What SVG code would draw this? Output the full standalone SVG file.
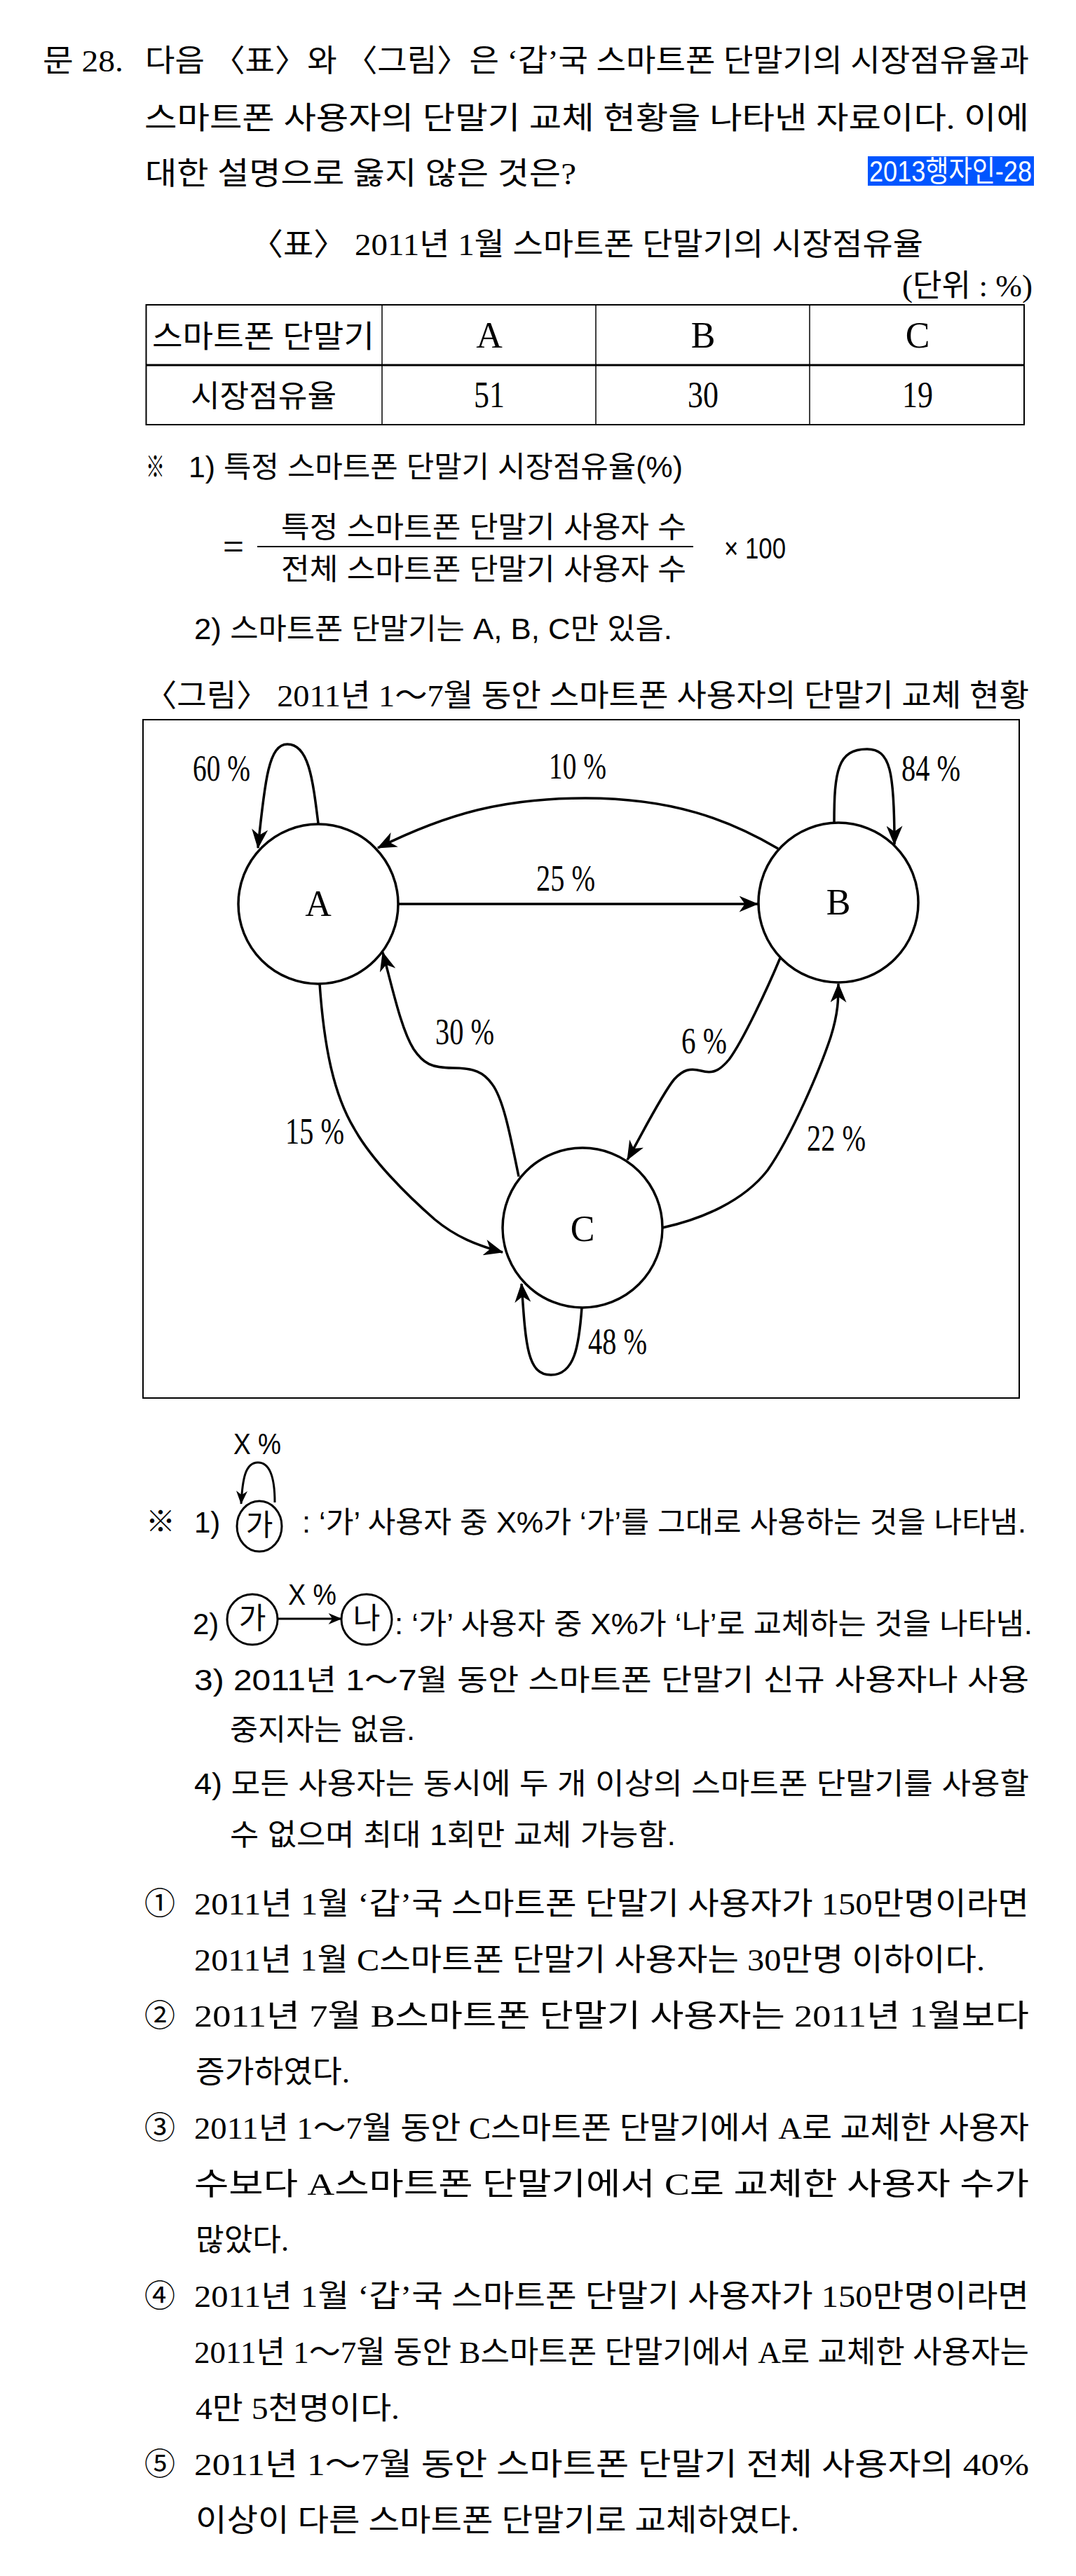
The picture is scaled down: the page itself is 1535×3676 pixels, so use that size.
<svg xmlns="http://www.w3.org/2000/svg" width="1535" height="3676" viewBox="0 0 1535 3676">
<style>
.t{font-family:"Liberation Serif","Noto Sans CJK KR",serif;font-size:44px;fill:#000}
.s{font-family:"Liberation Sans","Noto Sans CJK KR",sans-serif;font-size:42px;fill:#000}
.big{font-family:"Liberation Serif","Noto Sans CJK KR",serif;font-size:52px;fill:#000}
.lbl{font-family:"Liberation Serif",serif;font-size:52px;fill:#000}
.node{fill:#fff;stroke:#000;stroke-width:3.5}
.edge{fill:none;stroke:#000;stroke-width:3.5;marker-end:url(#arr)}
.sedge{fill:none;stroke:#000;stroke-width:3;marker-end:url(#arrs)}
.snode{fill:#fff;stroke:#000;stroke-width:3}
.ln{stroke:#000;fill:none}
</style>
<defs>
<marker id="arr" viewBox="0 0 24 20" refX="23" refY="10" markerWidth="28" markerHeight="23" orient="auto" markerUnits="userSpaceOnUse"><path d="M0,0 L24,10 L0,20 L7,10 z" fill="#000"/></marker>
<marker id="arrs" viewBox="0 0 24 20" refX="23" refY="10" markerWidth="20" markerHeight="16" orient="auto" markerUnits="userSpaceOnUse"><path d="M0,0 L24,10 L0,20 L7,10 z" fill="#000"/></marker>
</defs>
<rect width="1535" height="3676" fill="#fff"/>

<g id="question">
<text class="t" x="61" y="102" textLength="115" lengthAdjust="spacingAndGlyphs">문 28.</text>
<text class="t" x="207" y="102" textLength="1261" lengthAdjust="spacingAndGlyphs">다음 〈표〉와 〈그림〉은 ‘갑’국 스마트폰 단말기의 시장점유율과</text>
<text class="t" x="206" y="184" textLength="1262" lengthAdjust="spacingAndGlyphs">스마트폰 사용자의 단말기 교체 현황을 나타낸 자료이다. 이에</text>
<text class="t" x="207" y="263" textLength="615" lengthAdjust="spacingAndGlyphs">대한 설명으로 옳지 않은 것은?</text>
<rect x="1238" y="223" width="237" height="42" fill="#0055ff"/>
<text class="s" x="1240" y="259" style="fill:#fff" textLength="232" lengthAdjust="spacingAndGlyphs">2013행자인-28</text>
</g>

<g id="table">
<text class="t" x="357" y="364" textLength="960" lengthAdjust="spacingAndGlyphs">〈표〉 2011년 1월 스마트폰 단말기의 시장점유율</text>
<text class="t" x="1287" y="423" textLength="186" lengthAdjust="spacingAndGlyphs">(단위 : %)</text>
<rect class="ln" x="208.5" y="435" width="1252.5" height="171" stroke-width="2"/>
<line class="ln" x1="208.5" y1="521" x2="1461" y2="521" stroke-width="3"/>
<line class="ln" x1="545" y1="435" x2="545" y2="606" stroke-width="1.5"/>
<line class="ln" x1="850" y1="435" x2="850" y2="606" stroke-width="1.5"/>
<line class="ln" x1="1155" y1="435" x2="1155" y2="606" stroke-width="1.5"/>
<text class="t" x="217" y="496" textLength="317" lengthAdjust="spacingAndGlyphs">스마트폰 단말기</text>
<text class="big" x="698" y="496" text-anchor="middle">A</text>
<text class="big" x="1003" y="496" text-anchor="middle">B</text>
<text class="big" x="1309" y="496" text-anchor="middle">C</text>
<text class="t" x="272" y="581" textLength="208" lengthAdjust="spacingAndGlyphs">시장점유율</text>
<text class="big" x="676" y="581" textLength="44" lengthAdjust="spacingAndGlyphs">51</text>
<text class="big" x="981" y="581" textLength="44" lengthAdjust="spacingAndGlyphs">30</text>
<text class="big" x="1287" y="581" textLength="44" lengthAdjust="spacingAndGlyphs">19</text>
</g>

<g id="table-notes">
<text class="s" x="208" y="681" textLength="27" lengthAdjust="spacingAndGlyphs">※</text>
<text class="s" x="269" y="681" textLength="705" lengthAdjust="spacingAndGlyphs">1) 특정 스마트폰 단말기 시장점유율(%)</text>
<text class="s" x="318" y="794" textLength="30" lengthAdjust="spacingAndGlyphs">=</text>
<text class="s" x="401" y="767" textLength="578" lengthAdjust="spacingAndGlyphs">특정 스마트폰 단말기 사용자 수</text>
<line class="ln" x1="367" y1="780" x2="989" y2="780" stroke-width="2"/>
<text class="s" x="401" y="827" textLength="578" lengthAdjust="spacingAndGlyphs">전체 스마트폰 단말기 사용자 수</text>
<text class="s" x="1033" y="797" font-size="46" textLength="88" lengthAdjust="spacingAndGlyphs">× 100</text>
<text class="s" x="277" y="912" textLength="682" lengthAdjust="spacingAndGlyphs">2) 스마트폰 단말기는 A, B, C만 있음.</text>
</g>

<text id="figure-caption" class="t" x="206" y="1008" textLength="1262" lengthAdjust="spacingAndGlyphs">〈그림〉 2011년 1～7월 동안 스마트폰 사용자의 단말기 교체 현황</text>
<rect id="figure-frame" x="204" y="1027" width="1250" height="968" fill="none" stroke="#000" stroke-width="2"/>

<g id="connectors">
<path id="e-AA" class="edge" d="M454,1175 C446,1110 440,1062 410,1062 C384,1062 378,1110 368,1210"/>
<path id="e-BB" class="edge" d="M1190,1174 C1190,1100 1195,1069 1237,1069 C1270,1069 1276,1100 1276,1205"/>
<path id="e-CC" class="edge" d="M830,1866 C826,1920 820,1962 786,1962 C752,1962 750,1920 744,1832"/>
<path id="e-BA" class="edge" d="M1110,1211 C1040,1170 960,1139 835,1139 C720,1139 640,1160 539,1210"/>
<path id="e-AB" class="edge" d="M568,1290 L1081,1290"/>
<path id="e-CA" class="edge" d="M740,1679 C728,1620 718,1568 702,1547 C690,1530 676,1524 646,1524 C616,1524 604,1518 590,1497 C572,1468 560,1410 546,1359"/>
<path id="e-AC" class="edge" d="M456,1404 C462,1490 475,1560 505,1610 C530,1655 580,1705 620,1740 C650,1765 680,1777 717,1787"/>
<path id="e-BC" class="edge" d="M1113,1367 C1095,1410 1060,1485 1040,1512 C1025,1530 1015,1532 1000,1528 C985,1524 975,1526 962,1540 C945,1560 915,1620 895,1655"/>
<path id="e-CB" class="edge" d="M945,1752 C1000,1740 1060,1715 1095,1670 C1130,1620 1170,1525 1185,1480 C1196,1445 1196,1425 1196,1404"/>
<text class="lbl" x="275" y="1114" textLength="82" lengthAdjust="spacingAndGlyphs">60 %</text>
<text class="lbl" x="783" y="1111" textLength="82" lengthAdjust="spacingAndGlyphs">10 %</text>
<text class="lbl" x="1286" y="1114" textLength="84" lengthAdjust="spacingAndGlyphs">84 %</text>
<text class="lbl" x="765" y="1271" textLength="84" lengthAdjust="spacingAndGlyphs">25 %</text>
<text class="lbl" x="621" y="1490" textLength="84" lengthAdjust="spacingAndGlyphs">30 %</text>
<text class="lbl" x="972" y="1503" textLength="65" lengthAdjust="spacingAndGlyphs">6 %</text>
<text class="lbl" x="407" y="1632" textLength="84" lengthAdjust="spacingAndGlyphs">15 %</text>
<text class="lbl" x="1151" y="1642" textLength="84" lengthAdjust="spacingAndGlyphs">22 %</text>
<text class="lbl" x="839" y="1932" textLength="84" lengthAdjust="spacingAndGlyphs">48 %</text>
</g>

<g id="node-A">
<circle class="node" cx="454" cy="1290" r="114"/>
<text class="lbl" x="454" y="1307" text-anchor="middle">A</text>
</g>
<g id="node-B">
<circle class="node" cx="1196" cy="1288" r="114"/>
<text class="lbl" x="1196" y="1305" text-anchor="middle">B</text>
</g>
<g id="node-C">
<circle class="node" cx="831" cy="1752" r="114"/>
<text class="lbl" x="831" y="1771" text-anchor="middle">C</text>
</g>

<g id="figure-notes">
<text class="s" x="208" y="2186" font-size="38">※</text>
<text class="s" x="277" y="2187">1)</text>
<text class="s" x="333" y="2075" textLength="68" lengthAdjust="spacingAndGlyphs">X %</text>
<g id="legend-ga1">
<path class="sedge" d="M392,2144 C392,2110 386,2087 368,2087 C350,2087 346,2110 344,2146"/>
<ellipse class="snode" cx="370" cy="2178" rx="32" ry="36"/>
<text class="s" x="370" y="2191" font-size="36" text-anchor="middle">가</text>
</g>
<text class="s" x="431" y="2187" textLength="1033" lengthAdjust="spacingAndGlyphs">: ‘가’ 사용자 중 X%가 ‘가’를 그대로 사용하는 것을 나타냄.</text>

<text class="s" x="275" y="2332">2)</text>
<g id="legend-ga2">
<ellipse class="snode" cx="360" cy="2311" rx="36" ry="36"/>
<text class="s" x="360" y="2324" font-size="36" text-anchor="middle">가</text>
</g>
<path class="sedge" d="M396,2310 L487,2310"/>
<text class="s" x="411" y="2290" textLength="69" lengthAdjust="spacingAndGlyphs">X %</text>
<g id="legend-na">
<ellipse class="snode" cx="523" cy="2311" rx="36" ry="36"/>
<text class="s" x="523" y="2324" font-size="36" text-anchor="middle">나</text>
</g>
<text class="s" x="563" y="2332" textLength="910" lengthAdjust="spacingAndGlyphs">: ‘가’ 사용자 중 X%가 ‘나’로 교체하는 것을 나타냄.</text>

<text class="s" x="277" y="2412" textLength="1191" lengthAdjust="spacingAndGlyphs">3) 2011년 1～7월 동안 스마트폰 단말기 신규 사용자나 사용</text>
<text class="s" x="328" y="2483" textLength="264" lengthAdjust="spacingAndGlyphs">중지자는 없음.</text>
<text class="s" x="277" y="2560" textLength="1191" lengthAdjust="spacingAndGlyphs">4) 모든 사용자는 동시에 두 개 이상의 스마트폰 단말기를 사용할</text>
<text class="s" x="328" y="2633" textLength="636" lengthAdjust="spacingAndGlyphs">수 없으며 최대 1회만 교체 가능함.</text>
</g>

<g id="options">
<text class="t" x="206" y="2732" textLength="44" lengthAdjust="spacingAndGlyphs">①</text>
<text class="t" x="277" y="2732" textLength="1191" lengthAdjust="spacingAndGlyphs">2011년 1월 ‘갑’국 스마트폰 단말기 사용자가 150만명이라면</text>
<text class="t" x="277" y="2812" textLength="1128" lengthAdjust="spacingAndGlyphs">2011년 1월 C스마트폰 단말기 사용자는 30만명 이하이다.</text>
<text class="t" x="206" y="2892" textLength="44" lengthAdjust="spacingAndGlyphs">②</text>
<text class="t" x="277" y="2892" textLength="1191" lengthAdjust="spacingAndGlyphs">2011년 7월 B스마트폰 단말기 사용자는 2011년 1월보다</text>
<text class="t" x="279" y="2972" textLength="220" lengthAdjust="spacingAndGlyphs">증가하였다.</text>
<text class="t" x="206" y="3052" textLength="44" lengthAdjust="spacingAndGlyphs">③</text>
<text class="t" x="277" y="3052" textLength="1191" lengthAdjust="spacingAndGlyphs">2011년 1～7월 동안 C스마트폰 단말기에서 A로 교체한 사용자</text>
<text class="t" x="277" y="3132" textLength="1191" lengthAdjust="spacingAndGlyphs">수보다 A스마트폰 단말기에서 C로 교체한 사용자 수가</text>
<text class="t" x="279" y="3212" textLength="133" lengthAdjust="spacingAndGlyphs">많았다.</text>
<text class="t" x="206" y="3292" textLength="44" lengthAdjust="spacingAndGlyphs">④</text>
<text class="t" x="277" y="3292" textLength="1191" lengthAdjust="spacingAndGlyphs">2011년 1월 ‘갑’국 스마트폰 단말기 사용자가 150만명이라면</text>
<text class="t" x="277" y="3372" textLength="1191" lengthAdjust="spacingAndGlyphs">2011년 1～7월 동안 B스마트폰 단말기에서 A로 교체한 사용자는</text>
<text class="t" x="279" y="3452" textLength="291" lengthAdjust="spacingAndGlyphs">4만 5천명이다.</text>
<text class="t" x="206" y="3532" textLength="44" lengthAdjust="spacingAndGlyphs">⑤</text>
<text class="t" x="277" y="3532" textLength="1191" lengthAdjust="spacingAndGlyphs">2011년 1～7월 동안 스마트폰 단말기 전체 사용자의 40%</text>
<text class="t" x="279" y="3612" textLength="861" lengthAdjust="spacingAndGlyphs">이상이 다른 스마트폰 단말기로 교체하였다.</text>
</g>
</svg>
